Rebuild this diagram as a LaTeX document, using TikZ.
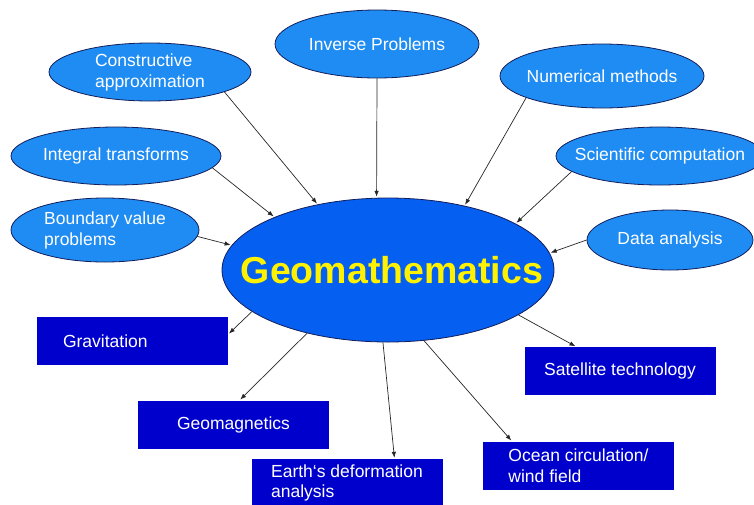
\documentclass[tikz,border=0pt]{standalone}
\usepackage{fontspec}
\setmainfont{Liberation Sans}
\usetikzlibrary{shapes.geometric,arrows.meta}

\definecolor{lichtblauw}{RGB}{30,140,242}
\definecolor{kernblauw}{RGB}{5,95,240}
\definecolor{donkerblauw}{RGB}{0,0,204}
\definecolor{rand}{RGB}{20,30,90}

\begin{document}
\begin{tikzpicture}[x=1pt,y=-1pt,>={Latex[length=6pt,width=4.5pt]}]

% --- Stijldefinities ---
\tikzset{
    ovaal/.style={
        ellipse,
        fill=lichtblauw,
        draw=rand,
        line width=0.8pt,
        text=white,
        font=\fontsize{17.5}{21}\selectfont,
        align=left,
        inner xsep=-40pt,
        inner ysep=0pt
    },
    kern/.style={
        ovaal,
        fill=kernblauw,
        text=yellow,
        font=\fontsize{37.5}{40}\selectfont\bfseries
    },
    kader/.style={
        rectangle,
        fill=donkerblauw,
        text=white,
        font=\fontsize{17.5}{20.5}\selectfont,
        align=left,
        minimum height=48pt,
        minimum width=191pt
    },
    pijl/.style={
        ->,
        draw=black!85,
        line width=0.7pt,
        shorten >=1pt
    }
}

\useasboundingbox (0,0) rectangle (754,504);

% --- Knooppunten (Nodes) ---
\node[kern, minimum width=332pt, minimum height=144pt] (geo) at (388,270) {\hspace*{8pt}Geomathematics};

\node[ovaal, minimum width=204pt, minimum height=68pt] (inv)   at (377,44)  {Inverse Problems};
\node[ovaal, minimum width=202pt, minimum height=58pt] (cons)  at (150,72)  {Constructive\\approximation};
\node[ovaal, minimum width=210pt, minimum height=58pt] (integ) at (116,156) {Integral transforms};
\node[ovaal, minimum width=188pt, minimum height=64pt] (bound) at (105,230) {Boundary value\\problems};
\node[ovaal, minimum width=204pt, minimum height=64pt] (num)   at (602,76)  {Numerical methods};
\node[ovaal, minimum width=208pt, minimum height=58pt] (sci)   at (660,156) {Scientific computation};
\node[ovaal, minimum width=166pt, minimum height=60pt] (data)  at (670,240) {Data analysis};

\node[kader, inner xsep=26pt, text width=139pt] (grav) at (132.5,341) {Gravitation};
\node[kader] (gmag)  at (233.5,424.5) {Geomagnetics};
\node[kader] (earth) at (347,483)     {Earth‘s deformation\\analysis};
\node[kader] (ocean) at (578.5,465.5) {Ocean circulation/\\wind field};
\node[kader] (sat)   at (620,371)     {Satellite technology};

% --- Pijlen ---
\draw[pijl] (cons.-15)   -- (geo.137);
\draw[pijl] (integ.-7)   -- (geo.155);
\draw[pijl] (bound.-4)   -- (geo.171);
\draw[pijl] (inv.south)  -- (geo.99);
\draw[pijl] (num.-164)   -- (geo.40);
\draw[pijl] (sci.-170)   -- (geo.20);
\draw[pijl] (data.west)  -- (geo.6);

\draw[pijl] (geo.-163) -- (grav.4);
\draw[pijl] (geo.-142) -- (gmag.76);
\draw[pijl] (geo.-94)  -- (earth.27);
\draw[pijl] (geo.-63)  -- (ocean.160);
\draw[pijl] (geo.-19)  -- (sat.151);
\end{tikzpicture}
\end{document}
